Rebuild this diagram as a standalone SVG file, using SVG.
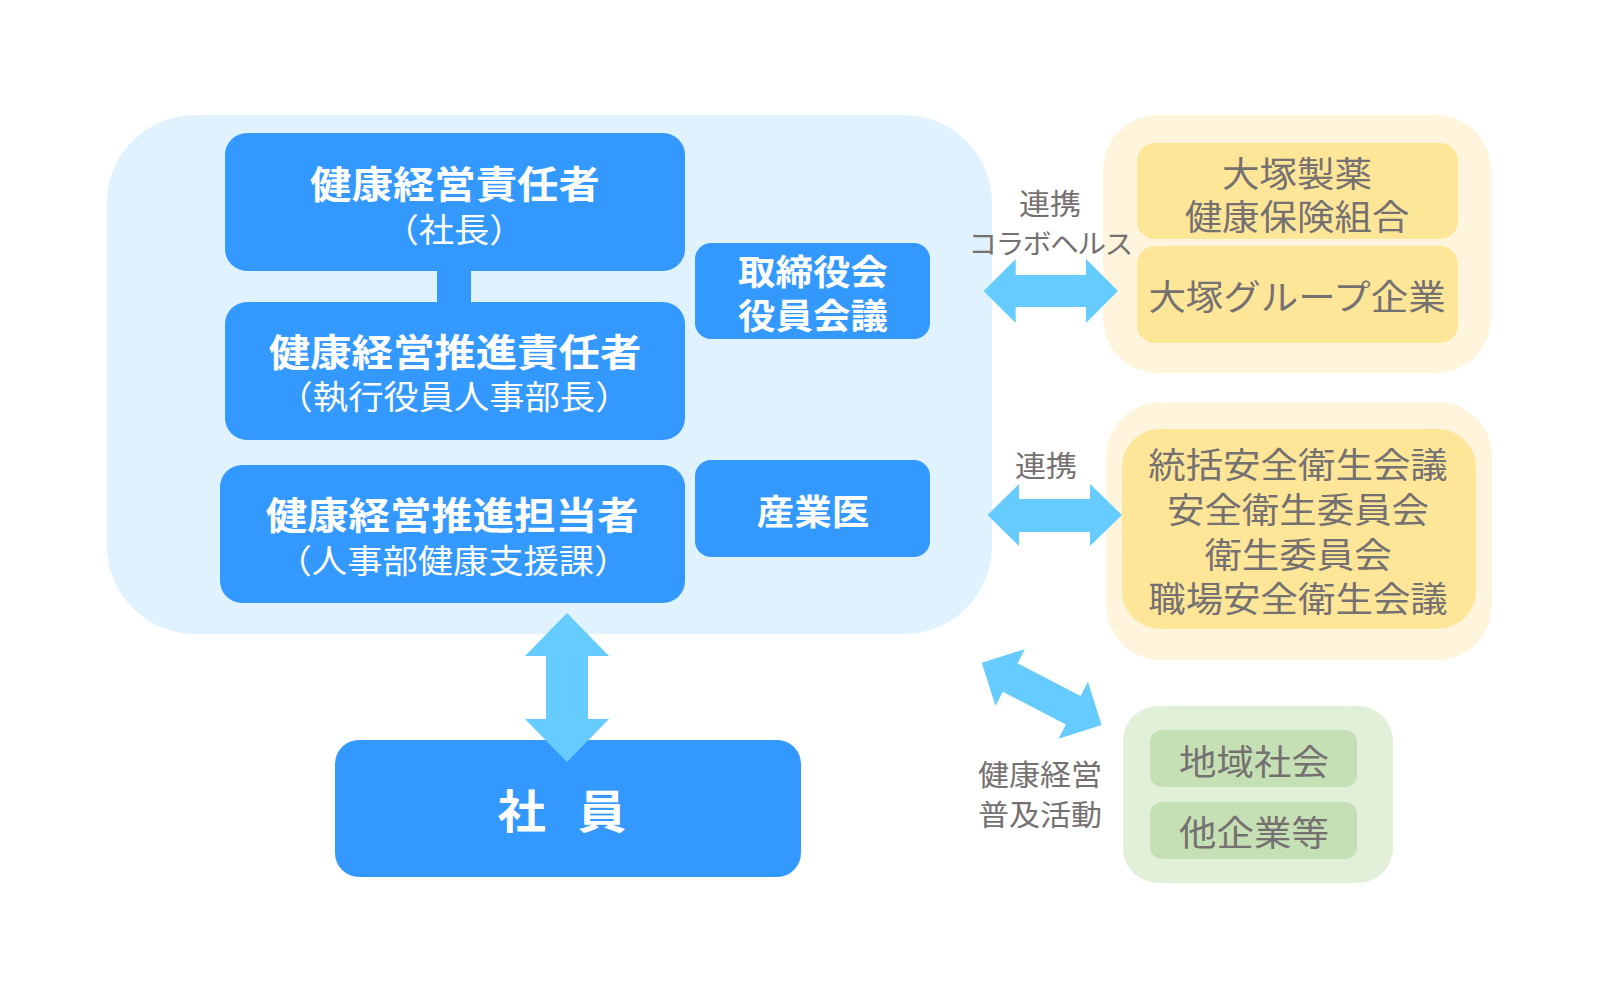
<svg xmlns="http://www.w3.org/2000/svg" width="1600" height="1000" viewBox="0 0 1600 1000">
<style>
text{font-family:"Noto Sans CJK JP","Noto Sans CJK SC",sans-serif;text-anchor:middle;dominant-baseline:central}
.box{fill:#3399ff}
.w{fill:#ffffff}
.b{font-weight:700}
.g{fill:#767171}
.arr{fill:#66ccff}
.ybig{fill:#fef5dc}
.yin{fill:#fee699}
.gbig{fill:#e2efd9}
.gin{fill:#c5e0b4}
.t1{font-size:38px}
.t2{font-size:33px}
.t3{font-size:35px}
.t4{font-size:29px}
</style>
<rect width="1600" height="1000" fill="#ffffff"/>
<g id="container-main"><rect x="107" y="115" width="885" height="519" rx="88" fill="#dff2fd"/></g>
<g id="connectors">
<rect x="437" y="268" width="34" height="36" class="box"/>
</g>
<g id="node-sekininsha">
<rect x="225" y="133" width="460" height="138" rx="22" class="box"/>
<g transform="translate(455,0) scale(1.09,1)"><text x="0" y="181" class="t1 w b">健康経営責任者</text></g>
<g transform="translate(454,0) scale(1.07,1)"><text x="0" y="228" class="t2 w">（社長）</text></g>
</g>
<g id="node-suishin-sekininsha">
<rect x="225" y="302" width="460" height="138" rx="22" class="box"/>
<g transform="translate(455,0) scale(1.09,1)"><text x="0" y="349" class="t1 w b">健康経営推進責任者</text></g>
<g transform="translate(454,0) scale(1.07,1)"><text x="0" y="395" class="t2 w">（執行役員人事部長）</text></g>
</g>
<g id="node-suishin-tantousha">
<rect x="220" y="465" width="465" height="138" rx="22" class="box"/>
<g transform="translate(452,0) scale(1.09,1)"><text x="0" y="512" class="t1 w b">健康経営推進担当者</text></g>
<g transform="translate(453,0) scale(1.07,1)"><text x="0" y="559" class="t2 w">（人事部健康支援課）</text></g>
</g>
<g id="node-torishimariyakukai">
<rect x="695" y="243" width="235" height="96" rx="16" class="box"/>
<g transform="translate(813,0) scale(1.07,1)">
<text x="0" y="270" class="t3 w b">取締役会</text>
<text x="0" y="314" class="t3 w b">役員会議</text>
</g>
</g>
<g id="node-sangyoui">
<rect x="695" y="460" width="235" height="97" rx="16" class="box"/>
<g transform="translate(813,0) scale(1.07,1)"><text x="0" y="510" class="t3 w b">産業医</text></g>
</g>
<g id="node-shain">
<rect x="335" y="740" width="466" height="137" rx="24" class="box"/>
<g transform="translate(567,0) scale(1.05,1)"><text x="0" y="808" font-size="46" class="w b" letter-spacing="10">社 員</text></g>
</g>
<g id="node-kenpo-group">
<rect x="1103" y="115" width="388" height="258" rx="55" class="ybig"/>
<rect x="1137" y="143" width="321" height="96" rx="18" class="yin"/>
<rect x="1137" y="246" width="321" height="97" rx="18" class="yin"/>
<g transform="translate(1297,0) scale(1.07,1)">
<text x="0" y="172" class="t3 g">大塚製薬</text>
<text x="0" y="215" class="t3 g">健康保険組合</text>
<text x="0" y="295" class="t3 g">大塚グループ企業</text>
</g>
</g>
<g id="node-eisei-group">
<rect x="1106" y="402" width="386" height="258" rx="55" class="ybig"/>
<rect x="1122" y="429" width="354" height="200" rx="38" class="yin"/>
<g transform="translate(1298,0) scale(1.07,1)">
<text x="0" y="463" class="t3 g">統括安全衛生会議</text>
<text x="0" y="508" class="t3 g">安全衛生委員会</text>
<text x="0" y="553" class="t3 g">衛生委員会</text>
<text x="0" y="597" class="t3 g">職場安全衛生会議</text>
</g>
</g>
<g id="node-chiiki-group">
<rect x="1123" y="706" width="270" height="177" rx="35" class="gbig"/>
<rect x="1150" y="730" width="207" height="57" rx="12" class="gin"/>
<rect x="1150" y="802" width="207" height="57" rx="12" class="gin"/>
<g transform="translate(1254,0) scale(1.07,1)">
<text x="0" y="760" class="t3 g">地域社会</text>
<text x="0" y="831" class="t3 g">他企業等</text>
</g>
</g>
<g id="arrows">
<polygon class="arr" points="567,613 609,656 588,656 588,719 609,719 567,762 525,719 546,719 546,656 525,656"/>
<polygon class="arr" points="983.6,291 1015.7,259 1015.7,275 1086,275 1086,259 1118,291 1086,323 1086,307 1015.7,307 1015.7,323"/>
<polygon class="arr" points="987.5,515 1019,484 1019,499 1090,499 1090,484 1122,515 1090,546 1090,532 1019,532 1019,546"/>
<polygon class="arr" transform="translate(1041.7,693.9) rotate(27.4)" points="-67.5,0 -35.5,-32 -35.5,-16 35.5,-16 35.5,-32 67.5,0 35.5,32 35.5,16 -35.5,16 -35.5,32"/>
</g>
<g id="labels">
<g transform="translate(1050,0) scale(1.07,1)">
<text x="0" y="202" class="t4 g">連携</text>
<text x="0" y="242" font-size="27" class="g" letter-spacing="-1.5">コラボヘルス</text>
</g>
<g transform="translate(1046,0) scale(1.07,1)"><text x="0" y="464" class="t4 g">連携</text></g>
<g transform="translate(1040,0) scale(1.07,1)">
<text x="0" y="773" class="t4 g">健康経営</text>
<text x="0" y="813" class="t4 g">普及活動</text>
</g>
</g>
</svg>
